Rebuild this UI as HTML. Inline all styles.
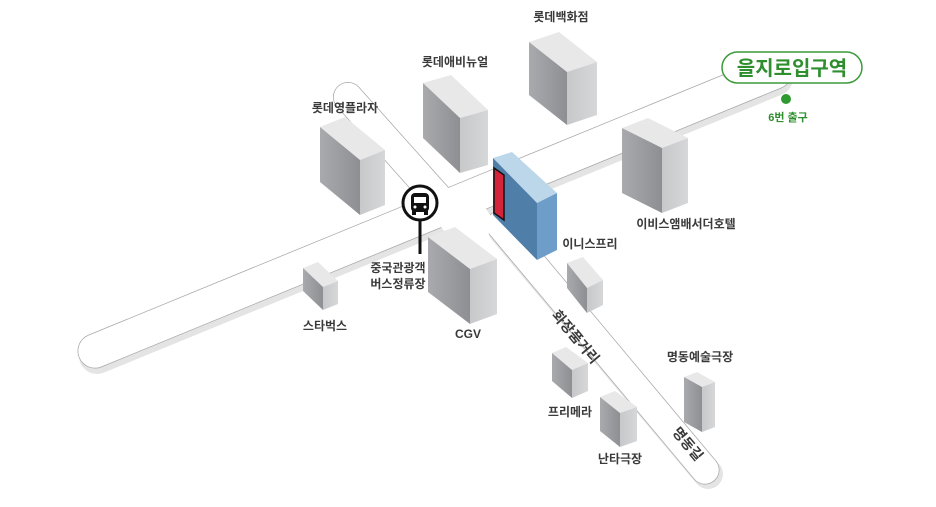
<!DOCTYPE html>
<html><head><meta charset="utf-8"><style>
html,body{margin:0;padding:0;background:#fff;}
svg{display:block;}
text{font-family:"Liberation Sans","Noto Sans CJK KR",sans-serif;font-weight:bold;}
</style></head><body>
<svg width="936" height="507" viewBox="0 0 936 507" xmlns="http://www.w3.org/2000/svg">
<defs>
<linearGradient id="gl" x1="0" y1="0" x2="1" y2="0"><stop offset="0" stop-color="#a9aaad"/><stop offset="1" stop-color="#8e8f93"/></linearGradient>
<linearGradient id="gr" x1="0" y1="0" x2="1" y2="0"><stop offset="0" stop-color="#c7c8ca"/><stop offset="1" stop-color="#d6d7d9"/></linearGradient>
</defs>
<g stroke-linecap="round" fill="none">
  <line x1="97" y1="356" x2="775" y2="78" stroke="#e4e4e4" stroke-width="36"/>
  <line x1="503" y1="230" x2="708" y2="474" stroke="#e4e4e4" stroke-width="30"/>
  <line x1="95" y1="351" x2="775" y2="72" stroke="#a8a8a8" stroke-width="35"/>
  <line x1="348" y1="97" x2="440" y2="200" stroke="#a8a8a8" stroke-width="30"/>
  <line x1="500" y1="225" x2="705" y2="470" stroke="#a8a8a8" stroke-width="29"/>
  <line x1="95" y1="351" x2="775" y2="72" stroke="#fff" stroke-width="33.5"/>
  <line x1="348" y1="97" x2="440" y2="200" stroke="#fff" stroke-width="28.5"/>
  <line x1="500" y1="225" x2="705" y2="470" stroke="#fff" stroke-width="27.5"/>
</g>
<polygon points="420,200 470,185 500,230 455,245" fill="#fff"/>

<g stroke="none">
<polygon points="529,42 559,32 597,62 567,72" fill="#e8e8e9"/>
<polygon points="529,42 567,72 567,125 529,95" fill="url(#gl)"/>
<polygon points="567,72 597,62 597,115 567,125" fill="url(#gr)"/>
<polygon points="423,83 451,75 488,110 460,118" fill="#e8e8e9"/>
<polygon points="423,83 460,118 460,173 423,138" fill="url(#gl)"/>
<polygon points="460,118 488,110 488,165 460,173" fill="url(#gr)"/>
<polygon points="320,127 345,117 385,150 360,160" fill="#e8e8e9"/>
<polygon points="320,127 360,160 360,215 320,182" fill="url(#gl)"/>
<polygon points="360,160 385,150 385,205 360,215" fill="url(#gr)"/>
<polygon points="622,128 648,118 688,138 662,148" fill="#e8e8e9"/>
<polygon points="622,128 662,148 662,213 622,193" fill="url(#gl)"/>
<polygon points="662,148 688,138 688,203 662,213" fill="url(#gr)"/>
<polygon points="428,237 455,227 497,259 470,269" fill="#e8e8e9"/>
<polygon points="428,237 470,269 470,324 428,292" fill="url(#gl)"/>
<polygon points="470,269 497,259 497,314 470,324" fill="url(#gr)"/>
<polygon points="303,268 318,262 338,281 323,287" fill="#e8e8e9"/>
<polygon points="303,268 323,287 323,310 303,291" fill="url(#gl)"/>
<polygon points="323,287 338,281 338,304 323,310" fill="url(#gr)"/>
<polygon points="567,263 583,257 603,280 587,288" fill="#e8e8e9"/>
<polygon points="567,263 587,288 587,313 567,288" fill="url(#gl)"/>
<polygon points="587,288 603,280 603,305 587,313" fill="url(#gr)"/>
<polygon points="552,353 566,347 588,363 572,370" fill="#e8e8e9"/>
<polygon points="552,353 572,370 572,398 552,381" fill="url(#gl)"/>
<polygon points="572,370 588,363 588,391 572,398" fill="url(#gr)"/>
<polygon points="600,397 615,391 637,407 620,413" fill="#e8e8e9"/>
<polygon points="600,397 620,413 620,447 600,431" fill="url(#gl)"/>
<polygon points="620,413 637,407 637,441 620,447" fill="url(#gr)"/>
<polygon points="684,377 697,372 715,382 702,387" fill="#e8e8e9"/>
<polygon points="684,377 702,387 702,432 684,422" fill="url(#gl)"/>
<polygon points="702,387 715,382 715,427 702,432" fill="url(#gr)"/>
<polygon points="493,158 512,152 557,193 537,203" fill="#bcd6ea"/>
<polygon points="493,158 537,203 537,260 493,215" fill="#4f7ea9"/>
<polygon points="537,203 557,193 557,250 537,260" fill="#6d9dc8"/>
</g>
<polygon points="494,168 504,175 504,220 494,213" fill="#d4243a" stroke="#111" stroke-width="1.5"/>

<line x1="420" y1="218" x2="420" y2="254" stroke="#111" stroke-width="3"/>
<circle cx="420" cy="203" r="17" fill="#fff" stroke="#111" stroke-width="3"/>
<rect x="411" y="193" width="18" height="19" rx="4" fill="#111"/>
<rect x="414" y="197" width="12" height="6" fill="#fff"/>
<circle cx="415" cy="207" r="1.5" fill="#fff"/><circle cx="425" cy="207" r="1.5" fill="#fff"/>
<rect x="412" y="211" width="4" height="4" fill="#111"/><rect x="424" y="211" width="4" height="4" fill="#111"/>

<g font-size="12" fill="#3a3a3a" text-anchor="middle">
<text x="561" y="21">롯데백화점</text>
<text x="455" y="66">롯데애비뉴얼</text>
<text x="345" y="112">롯데영플라자</text>
<text x="686" y="228">이비스앰배서더호텔</text>
<text x="468" y="338">CGV</text>
<text x="325" y="330">스타벅스</text>
<text x="590" y="248">이니스프리</text>
<text x="570" y="416">프리메라</text>
<text x="620" y="463">난타극장</text>
<text x="700" y="361">명동예술극장</text>
<text x="398" y="272">중국관광객</text>
<text x="398" y="288">버스정류장</text>
</g>
<g font-size="14" fill="#3a3a3a" text-anchor="middle">
<text transform="translate(572,340) rotate(50)">화장품거리</text>
<text transform="translate(684,447) rotate(50)">명동길</text>
</g>

<rect x="722" y="52" width="140" height="31" rx="15.5" fill="#fff" stroke="#3c9a3c" stroke-width="1.5"/>
<text x="792" y="75" font-size="20" fill="#2f8f2f" text-anchor="middle">을지로입구역</text>
<circle cx="786" cy="99" r="5" fill="#2f9a2f"/>
<text x="788" y="121" font-size="11" fill="#2f8f2f" text-anchor="middle">6번 출구</text>
</svg>
</body></html>
